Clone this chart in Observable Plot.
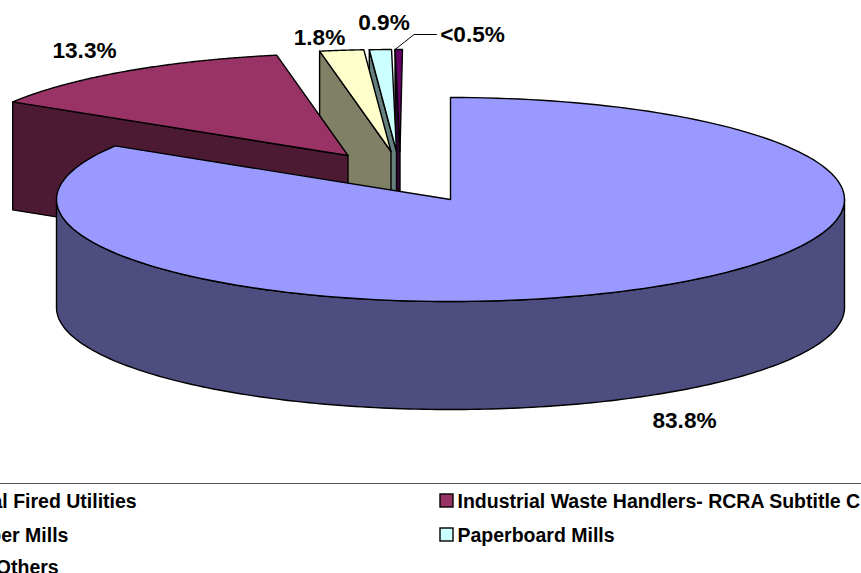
<!DOCTYPE html>
<html>
<head>
<meta charset="utf-8">
<style>
  html, body { margin: 0; padding: 0; background: #fff; overflow: hidden; }
</style>
<script src="https://cdn.jsdelivr.net/npm/d3@7"></script>
<script src="https://cdn.jsdelivr.net/npm/@observablehq/plot@0.6"></script>
</head>
<body>
<div id="chart"></div>
<script>
// Share of the total by source, in percent, clockwise from twelve o'clock.
const sources = ["Coal Fired Utilities", "Industrial Waste Handlers- RCRA Subtitle C", "Paper Mills", "Paperboard Mills", "All Others"];
const shares = [83.8, 13.3, 1.8, 0.9, 0.3];
const shareLabels = ["83.8%", "13.3%", "1.8%", "0.9%", "<0.5%"];
const topColors = ["#9999FF", "#993366", "#FFFFCC", "#CCFFFF", "#660066"];
const wallColors = ["#4D4D80", "#4D1A33", "#808066", "#668080", "#330033"];

// Tilted-pie geometry, in drawing units.
const radiusX = 394, radiusY = 102, depth = 108;
const apexX = [450, 347.5, 390.5, 396, 399.5];
const apexY = [199, 155, 151, 151, 151];
const labelX = [684, 84, 319, 383.5, 472];
const labelY = [420, 50, 37, 22, 34];
const legendX = [-35, 457, -35, 457, -35];
const legendY = [501.5, 501.5, 535.5, 535.5, 567];

const turns = d3.cumsum(shares).map(c => (c / 100) * 2 * Math.PI);
const startAngle = i => (i === 0 ? 0 : turns[i - 1]);
const endAngle = i => turns[i];
const rim = (i, t) => ({x: apexX[i] + radiusX * Math.sin(t), y: apexY[i] - radiusY * Math.cos(t)});
const drop = (p) => ({x: p.x, y: p.y + depth});
const arc = (i, a, b) => d3.range(0, 181).map(k => rim(i, a + (b - a) * k / 180));
const closed = pts => [...pts, pts[0]];
const face = (pts, fill) => Plot.line(closed(pts), {x: "x", y: "y", fill, stroke: "#000", strokeWidth: 1.4, strokeLinejoin: "round"});

const marks = [];

// Detached wedges, back to front, each with the cut face that looks toward the viewer.
for (const i of [4, 3, 2, 1]) {
  const apex = {x: apexX[i], y: apexY[i]};
  const edge = rim(i, startAngle(i));
  marks.push(face([edge, apex, drop(apex), drop(edge)], wallColors[i]));
  marks.push(face([apex, ...arc(i, startAngle(i), endAngle(i))], topColors[i]));
}

// The large wedge: curved wall across the front half, then its top.
const front = arc(0, Math.PI / 2, 3 * Math.PI / 2);
marks.push(face([...front, ...front.slice().reverse().map(drop)], wallColors[0]));
marks.push(face([{x: apexX[0], y: apexY[0]}, ...arc(0, 0, endAngle(0))], topColors[0]));

// Leader from the smallest wedge's rim to its label.
const tip = rim(4, startAngle(4));
marks.push(Plot.line([
  {x: tip.x, y: tip.y},
  {x: tip.x + 19, y: tip.y - 15},
  {x: labelX[4] - 36, y: tip.y - 15}
], {x: "x", y: "y", stroke: "#000", strokeWidth: 1}));

// Value labels.
marks.push(Plot.text(shareLabels, {
  x: (d, i) => labelX[i], y: (d, i) => labelY[i], text: d => d,
  fontFamily: "Liberation Sans, Arial, sans-serif", fontWeight: "bold", fontSize: 22.6, fill: "#000"
}));

// Legend: rule above, swatch and name for each source.
marks.push(Plot.ruleY([483], {stroke: "#555", strokeWidth: 1.2}));
marks.push(Plot.rect(sources, {
  x1: (d, i) => legendX[i] - 17, x2: (d, i) => legendX[i] - 4,
  y1: (d, i) => legendY[i] - 7.5, y2: (d, i) => legendY[i] + 5.5,
  fill: (d, i) => topColors[i], stroke: "#000", strokeWidth: 1.4
}));
marks.push(Plot.text(sources, {
  x: (d, i) => legendX[i], y: (d, i) => legendY[i], text: d => d, textAnchor: "start",
  fontFamily: "Liberation Sans, Arial, sans-serif", fontWeight: "bold", fontSize: 19.5, fill: "#000"
}));

const chart = Plot.plot({
  width: 861, height: 573, margin: 0,
  x: {domain: [0, 861], range: [0, 861], axis: null},
  y: {domain: [0, 573], range: [0, 573], axis: null},
  marks
});
document.getElementById("chart").appendChild(chart);
</script>
</body>
</html>
